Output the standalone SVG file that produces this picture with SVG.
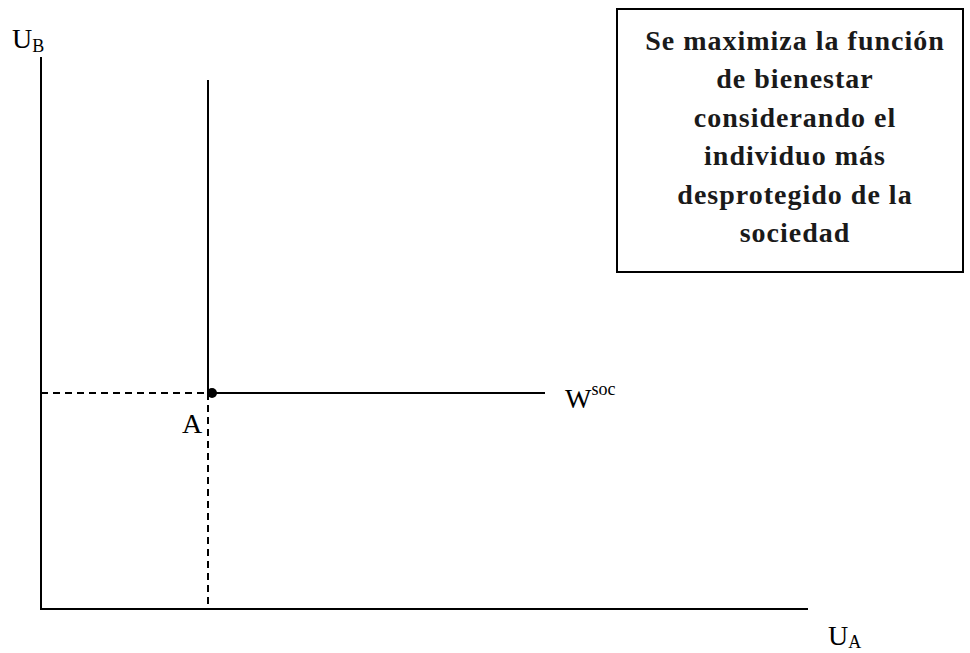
<svg xmlns="http://www.w3.org/2000/svg" width="970" height="653" viewBox="0 0 970 653">
<style>
.ax{stroke:#000;stroke-width:2;fill:none}
.dash{stroke:#000;stroke-width:2;fill:none;stroke-dasharray:7,5}
.lbl{font-family:"Liberation Serif",serif;font-size:28px;fill:#000}
.sub{font-size:18px}
.box{font-family:"Liberation Serif",serif;font-weight:bold;font-size:28px;letter-spacing:1px;fill:#1a1a1a;text-anchor:middle}
</style>
<rect width="970" height="653" fill="#fff"/>
<g id="connectors">
<line class="ax" x1="41" y1="57" x2="41" y2="610"/>
<line class="ax" x1="40" y1="609" x2="808" y2="609"/>
<line class="ax" x1="208" y1="80" x2="208" y2="393"/>
<line class="ax" x1="208" y1="393" x2="545" y2="393"/>
<line class="dash" x1="41" y1="393" x2="208" y2="393"/>
<line class="dash" x1="208" y1="393" x2="208" y2="609"/>
</g>
<g id="point-A">
<circle cx="212" cy="393" r="5" fill="#000"/>
<text class="lbl" x="182" y="433">A</text>
</g>
<g id="label-UB"><text class="lbl" x="12" y="48">U<tspan class="sub" dy="4">B</tspan></text></g>
<g id="label-UA"><text class="lbl" x="828" y="645">U<tspan class="sub" dy="3">A</tspan></text></g>
<g id="label-Wsoc"><text class="lbl" x="565" y="408" font-size="27">W<tspan class="sub" dy="-13">soc</tspan></text></g>
<g id="note">
<rect x="617" y="9" width="346" height="263" fill="#fff" stroke="#000" stroke-width="2"/>
<text class="box" x="795" y="50">Se maximiza la función</text>
<text class="box" x="795" y="88">de bienestar</text>
<text class="box" x="795" y="127">considerando el</text>
<text class="box" x="795" y="165">individuo más</text>
<text class="box" x="795" y="204">desprotegido de la</text>
<text class="box" x="795" y="242">sociedad</text>
</g>
</svg>
